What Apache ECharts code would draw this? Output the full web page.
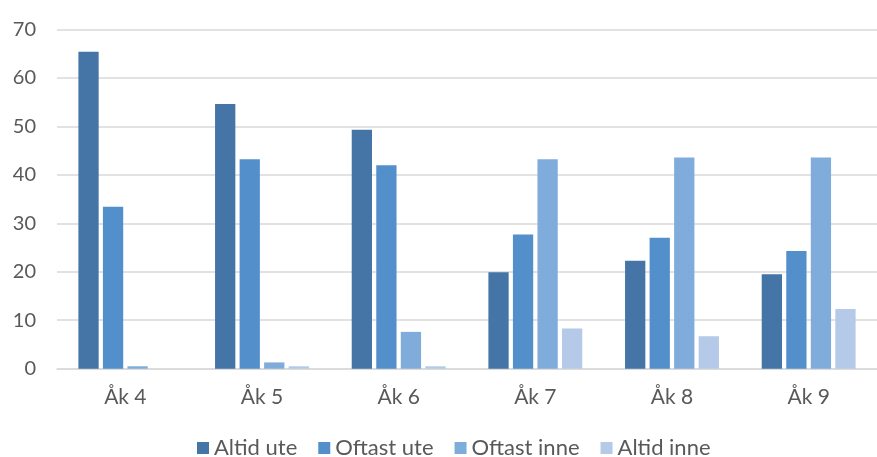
<!DOCTYPE html>
<html>
<head>
<meta charset="utf-8">
<script src="https://cdn.jsdelivr.net/npm/echarts@6/dist/echarts.min.js"></script>
<style>
  html, body { margin: 0; padding: 0; background: #ffffff; }
  #chart { width: 877px; height: 457px; }
</style>
</head>
<body>
<div id="chart"></div>
<script>
// Grades on the category axis
const categories = ['Åk 4', 'Åk 5', 'Åk 6', 'Åk 7', 'Åk 8', 'Åk 9'];

// Share (%) per answer, one list per series
const seriesNames = ['Altid ute', 'Oftast ute', 'Oftast inne', 'Altid inne'];
const altidUte   = [65.4, 54.6, 49.3, 19.9, 22.3, 19.5];
const oftastUte  = [33.4, 43.2, 42.0, 27.7, 27.0, 24.3];
const oftastInne = [0.5, 1.3, 7.6, 43.2, 43.6, 43.6];
const altidInne  = [0.0, 0.5, 0.5, 8.3, 6.7, 12.3];

// Value axis ticks
const yTicks = [0, 10, 20, 30, 40, 50, 60, 70];

const colors = ['#4574a6', '#5390cb', '#80acdc', '#b4cae8'];
const values = [altidUte, oftastUte, oftastInne, altidInne];
const textColor = '#595959';
const fontFamily = 'Lato, "Open Sans", sans-serif';

const chart = echarts.init(document.getElementById('chart'), null, { renderer: 'canvas' });

chart.setOption({
  animation: false,
  color: colors,
  textStyle: { fontFamily: fontFamily },
  grid: {
    left: 57,
    top: 29.5,
    bottom: 88.3,
    width: 828.6
  },
  legend: {
    data: seriesNames,
    left: 192,
    top: 432,
    padding: 5,
    icon: 'rect',
    itemWidth: 12,
    itemHeight: 12,
    itemGap: 21,
    textStyle: { color: textColor, fontSize: 22, fontFamily: fontFamily }
  },
  xAxis: {
    type: 'category',
    data: categories,
    axisTick: { show: false },
    axisLine: { show: true, lineStyle: { color: '#d9d9d9', width: 1.5 } },
    axisLabel: { color: textColor, fontSize: 21, margin: 18, fontFamily: fontFamily }
  },
  yAxis: {
    type: 'value',
    min: yTicks[0],
    max: yTicks[yTicks.length - 1],
    interval: yTicks[1] - yTicks[0],
    axisLine: { show: false },
    axisTick: { show: false },
    axisLabel: { color: textColor, fontSize: 20, margin: 21, fontFamily: fontFamily },
    splitLine: { lineStyle: { color: '#d9d9d9', width: 1.5 } }
  },
  series: seriesNames.map((name, i) => ({
    name: name,
    type: 'bar',
    data: values[i],
    barGap: '21%',
    barCategoryGap: '31.3%',
    itemStyle: { color: colors[i] }
  }))
});
</script>
</body>
</html>
